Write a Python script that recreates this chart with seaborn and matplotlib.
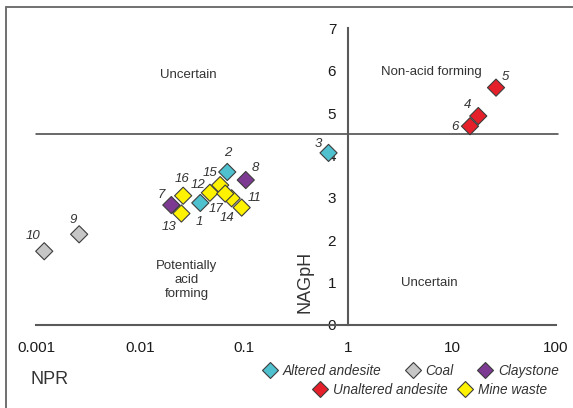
import matplotlib
matplotlib.use("Agg")
import matplotlib.pyplot as plt
from matplotlib.lines import Line2D
from matplotlib.ticker import NullLocator, FixedLocator, FixedFormatter
import seaborn as sns
import pandas as pd

# Sample data: net potential ratio (NPR) vs. net acid generation pH
sample_ids = [str(i) for i in range(1, 18)]
rock_types = ["Altered andesite", "Altered andesite", "Altered andesite",
              "Unaltered andesite", "Unaltered andesite", "Unaltered andesite",
              "Claystone", "Claystone", "Coal", "Coal",
              "Mine waste", "Mine waste", "Mine waste", "Mine waste",
              "Mine waste", "Mine waste", "Mine waste"]
npr = [0.038, 0.069, 0.65, 17.9, 26.5, 14.9, 0.020, 0.104, 0.0026, 0.0012,
       0.095, 0.047, 0.025, 0.076, 0.059, 0.026, 0.066]
nag_ph = [2.88, 3.61, 4.06, 4.93, 5.60, 4.69, 2.83, 3.42, 2.14, 1.74,
          2.77, 3.12, 2.63, 2.99, 3.30, 3.05, 3.10]

# label offsets (points) for the sample numbers
label_dx = [-0.5, 0.5, -7.5, -7.5, 6.5, -11, -7, 7, -4.5, -8, 9, -8.4, -9, -3, -7, -1, -6.7]
label_dy = [-13.5, 13.5, 6.5, 8, 8, -0.5, 7, 8.6, 10, 11, 7, 5.5, -9.4, -14, 8.4, 11.8, -11.3]

legend_row1 = ["Altered andesite", "Coal", "Claystone"]
legend_row2 = ["Unaltered andesite", "Mine waste"]
palette = {"Altered andesite": "#4FC0CE", "Coal": "#C6C6C6", "Claystone": "#7D3A92",
           "Unaltered andesite": "#E6202A", "Mine waste": "#FFF200"}

x_ticks = [0.001, 0.01, 0.1, 1, 10, 100]
x_tick_labels = ["0.001", "0.01", "0.1", "1", "10", "100"]
y_ticks = [0, 1, 2, 3, 4, 5, 6, 7]
threshold_ph = 4.5

df = pd.DataFrame({"id": sample_ids, "Rock": rock_types, "NPR": npr, "NAGpH": nag_ph})

sns.set_style("white")
plt.rcParams["font.family"] = ["Liberation Sans", "DejaVu Sans"]

W, H = 573, 408
fig = plt.figure(figsize=(W / 100, H / 100), dpi=100)
ax = fig.add_axes([36 / W, 1 - 325 / H, 520 / W, (325 - 28.3) / H])

axis_col = "#5a5a5a"
edge_col = "#3c3c3c"

sns.scatterplot(data=df, x="NPR", y="NAGpH", hue="Rock", palette=palette,
                marker="D", s=76, edgecolor=edge_col, linewidth=0.8,
                legend=False, ax=ax, zorder=3, clip_on=False)

ax.set_xscale("log")
ax.set_xlim(0.001, 100)
ax.set_ylim(0, 7)
ax.xaxis.set_major_locator(FixedLocator(x_ticks))
ax.xaxis.set_major_formatter(FixedFormatter(x_tick_labels))
ax.xaxis.set_minor_locator(NullLocator())
ax.set_yticks(y_ticks)
ax.set_xlabel("")
ax.set_ylabel("")

for side in ["top", "right"]:
    ax.spines[side].set_visible(False)
ax.spines["left"].set_position(("data", 1))
for side in ["left", "bottom"]:
    ax.spines[side].set_color(axis_col)
    ax.spines[side].set_linewidth(1.5)
ax.tick_params(axis="x", direction="out", length=3, width=1.3, color=axis_col,
               labelsize=11, pad=8.5, labelcolor="#1a1a1a")
ax.tick_params(axis="y", direction="out", length=3.5, width=1.3, color=axis_col,
               labelsize=11, pad=5, labelcolor="#1a1a1a")

# acid-forming threshold
ax.plot([0.001, 105], [threshold_ph, threshold_ph], color="#404040", lw=1.1,
        clip_on=False, zorder=2)

# sample numbers
for sid, xv, yv, dx, dy in zip(sample_ids, npr, nag_ph, label_dx, label_dy):
    ax.annotate(sid, (xv, yv), xytext=(dx, dy), textcoords="offset points",
                ha="center", va="center", fontsize=9.5, style="italic",
                color="#333333", zorder=4)

# region captions
region_kw = dict(ha="center", va="center", fontsize=9.5, color="#333333")
ax.text(0.029, 5.89, "Uncertain", **region_kw)
ax.text(6.4, 5.96, "Non-acid forming", **region_kw)
ax.text(0.0283, 1.06, "Potentially\nacid\nforming", linespacing=1.25, **region_kw)
ax.text(6.1, 0.99, "Uncertain", **region_kw)

fig.text(305 / W, 1 - 282 / H, "NAGpH", rotation=90, ha="center", va="center",
         fontsize=13, color="#333333")
fig.text(31 / W, 1 - 380 / H, "NPR", ha="left", va="center", fontsize=13,
         color="#333333")

def handles(names):
    return [Line2D([], [], marker="D", linestyle="", markersize=8.2,
                   markerfacecolor=palette[n], markeredgecolor=edge_col,
                   markeredgewidth=0.8, label=n) for n in names]

leg_kw = dict(frameon=False, handlelength=1.0, handletextpad=0.45,
              borderpad=0, borderaxespad=0,
              prop={"size": 9.8, "style": "italic"}, labelcolor="#333333")
leg1 = fig.legend(handles=handles(legend_row1), loc="center", ncol=3,
                  bbox_to_anchor=(411 / W, 1 - 371 / H), columnspacing=1.8, **leg_kw)
leg2 = fig.legend(handles=handles(legend_row2), loc="center", ncol=2,
                  bbox_to_anchor=(430 / W, 1 - 390 / H), columnspacing=0.8, **leg_kw)

# outer frame (left and top edges)
frame_kw = dict(color="#707070", lw=1.4, transform=fig.transFigure)
fig.add_artist(Line2D([6 / W, 6 / W], [0, 1 - 7 / H], **frame_kw))
fig.add_artist(Line2D([6 / W, 1], [1 - 7 / H, 1 - 7 / H], **frame_kw))

fig.savefig("out.png", dpi=100)
